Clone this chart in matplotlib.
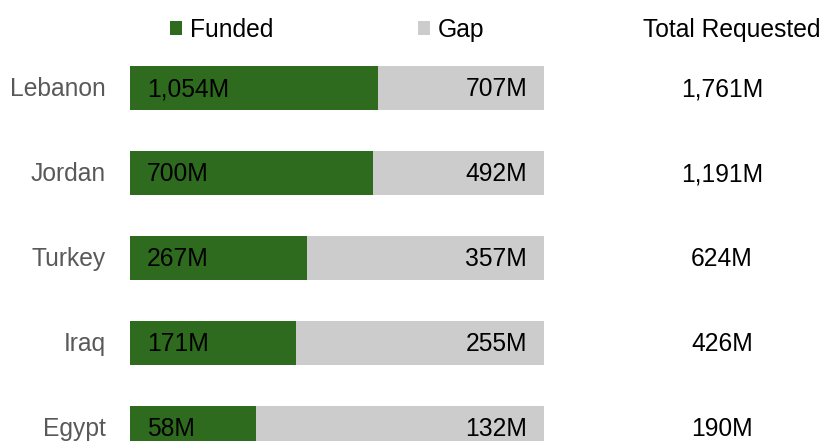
import matplotlib
matplotlib.use("Agg")
import matplotlib.pyplot as plt
import numpy as np

countries = ["Lebanon", "Jordan", "Turkey", "Iraq", "Egypt"]
funded = [1054, 700, 267, 171, 58]
gap = [707, 492, 357, 255, 132]
total = [1761, 1191, 624, 426, 190]

GREEN = "#2e6b1f"
GREY = "#cccccc"

plt.rcParams["font.family"] = ["Liberation Sans", "DejaVu Sans"]

fig = plt.figure(figsize=(8.22, 4.41), dpi=100)
ax = fig.add_axes([130 / 822, 0, 414 / 822, 1])

funded = np.array(funded, dtype=float)
gap = np.array(gap, dtype=float)
tot = funded + gap
f_share = funded / tot
g_share = gap / tot
y = np.arange(len(countries))

ax.barh(y, f_share, height=0.518, color=GREEN, label="Funded")
ax.barh(y, g_share, left=f_share, height=0.518, color=GREY, label="Gap")

ax.set_xlim(0, 1)
ax.set_ylim(4 + 13 / 85, -88 / 85)
ax.axis("off")

fs = 17.7
tr = ax.get_yaxis_transform()
for i in range(len(countries)):
    yy = y[i] + 1.5 / 85
    ax.text(17 / 414, yy, f"{int(funded[i]):,}M", transform=tr, ha="left", va="center",
            fontsize=fs, color="black")
    ax.text(1 - 17 / 414, yy, f"{int(gap[i]):,}M", transform=tr, ha="right", va="center",
            fontsize=fs, color="black")
    ax.text(-24 / 414, yy, countries[i], transform=tr, ha="right", va="center",
            fontsize=fs, color="#595959")
    ax.text((722 - 130) / 414, yy, f"{total[i]:,}M", transform=tr, ha="center", va="center",
            fontsize=fs, color="black")

ax.text((732 - 130) / 414, -58 / 85, "Total Requested", transform=ax.transData,
        ha="center", va="center", fontsize=fs, color="black")

fig.legend(loc="center left", bbox_to_anchor=(170 / 822, 1 - 30 / 441), ncol=2,
           frameon=False, fontsize=fs, handlelength=0.5, handleheight=0.5,
           handletextpad=0.33, columnspacing=5.85, borderpad=0, borderaxespad=0)

fig.savefig("out.png", dpi=100)
